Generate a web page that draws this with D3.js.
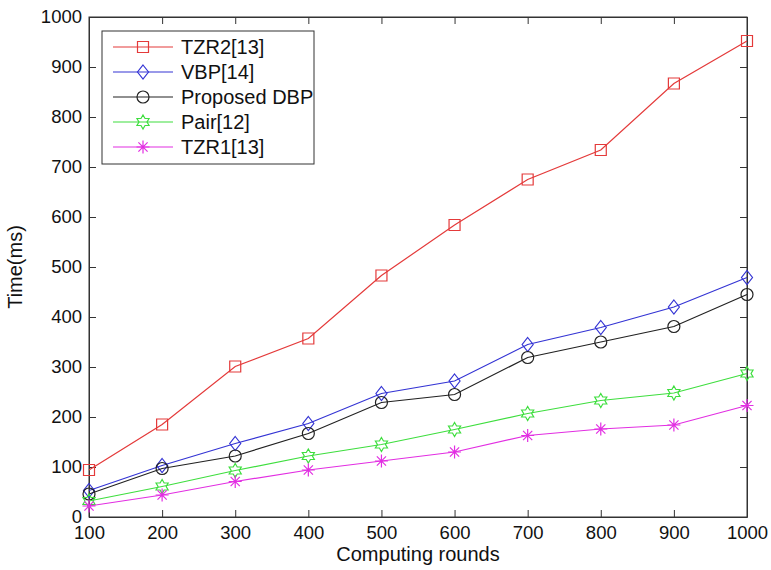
<!DOCTYPE html>
<html>
<head>
<meta charset="utf-8">
<script src="https://cdn.jsdelivr.net/npm/d3@7"></script>
<style>
  body { margin: 0; background: #fff; }
  svg text { font-family: "Liberation Sans", Arial, sans-serif; fill: #111; }
</style>
</head>
<body>
<svg id="chart" width="771" height="570"></svg>
<script>
// data
const rounds = [100, 200, 300, 400, 500, 600, 700, 800, 900, 1000];
const tzr2 = [94, 185, 301, 357, 483, 584, 675, 734, 867, 952];
const vbp  = [53, 103, 147, 187, 247, 272, 345, 379, 420, 479];
const dbp  = [46, 97, 122, 167, 229, 245, 319, 350, 381, 445];
const pair = [32, 61, 93, 122, 145, 175, 207, 233, 248, 287];
const tzr1 = [22, 44, 71, 94, 112, 130, 163, 176, 184, 223];
const yTicks = [0, 100, 200, 300, 400, 500, 600, 700, 800, 900, 1000];

const series = [
  {name: "TZR2[13]", values: tzr2, color: "#e43a3a", marker: "square"},
  {name: "VBP[14]", values: vbp, color: "#3434d4", marker: "diamond"},
  {name: "Proposed DBP", values: dbp, color: "#222222", marker: "circle"},
  {name: "Pair[12]", values: pair, color: "#3ede3e", marker: "hexagram"},
  {name: "TZR1[13]", values: tzr1, color: "#e22ee2", marker: "asterisk"}
];

const svg = d3.select("#chart");
const plotL = 89, plotR = 747, plotT = 17, plotB = 517;

const x = d3.scaleLinear().domain([100, 1000]).range([plotL, plotR]);
const y = d3.scaleLinear().domain([0, 1000]).range([plotB, plotT]);

// marker paths
function markerPath(type) {
  if (type === "square") return "M-5.5,-5.5H5.5V5.5H-5.5Z";
  if (type === "diamond") return "M0,-7L5.5,0L0,7L-5.5,0Z";
  if (type === "circle") return "M6,0A6,6 0 1,1 -6,0A6,6 0 1,1 6,0Z";
  if (type === "hexagram") {
    const R = 7, r = R / Math.sqrt(3);
    let p = [];
    for (let i = 0; i < 12; i++) {
      const a = -Math.PI / 2 + i * Math.PI / 6;
      const rr = i % 2 === 0 ? R : r;
      p.push([rr * Math.cos(a), rr * Math.sin(a)]);
    }
    return "M" + p.map(d => d[0].toFixed(2) + "," + d[1].toFixed(2)).join("L") + "Z";
  }
  if (type === "asterisk") {
    const s = 6.5, d = 4.6;
    return `M0,${-s}V${s}M${-s},0H${s}M${-d},${-d}L${d},${d}M${-d},${d}L${d},${-d}`;
  }
}

// box
svg.append("rect")
  .attr("x", plotL).attr("y", plotT)
  .attr("width", plotR - plotL).attr("height", plotB - plotT)
  .attr("fill", "none").attr("stroke", "#333").attr("stroke-width", 1);

// axes, ticks pointing inward
const fmt = d3.format("d");
const xAxis = svg.append("g")
  .attr("transform", `translate(0,${plotB})`)
  .call(d3.axisBottom(x).tickValues(rounds).tickFormat(fmt).tickSizeInner(-7).tickSizeOuter(0).tickPadding(9));
const xTop = svg.append("g")
  .attr("transform", `translate(0,${plotT})`)
  .call(d3.axisTop(x).tickValues(rounds).tickSizeInner(-7).tickSizeOuter(0).tickFormat(""));
const yAxis = svg.append("g")
  .attr("transform", `translate(${plotL},0)`)
  .call(d3.axisLeft(y).tickValues(yTicks).tickFormat(fmt).tickSizeInner(-7).tickSizeOuter(0).tickPadding(7));
const yRight = svg.append("g")
  .attr("transform", `translate(${plotR},0)`)
  .call(d3.axisRight(y).tickValues(yTicks).tickSizeInner(-7).tickSizeOuter(0).tickFormat(""));

[xAxis, xTop, yAxis, yRight].forEach(a => {
  a.select(".domain").attr("stroke", "#333");
  a.selectAll(".tick line").attr("stroke", "#333");
  a.selectAll("text")
    .style("font-family", "'Liberation Sans', Arial, sans-serif")
    .style("font-size", "18.5px")
    .attr("fill", "#111");
});

// axis titles
svg.append("text")
  .attr("x", (plotL + plotR) / 2).attr("y", 561)
  .attr("text-anchor", "middle")
  .style("font-size", "20px")
  .text("Computing rounds");

svg.append("text")
  .attr("transform", `translate(22,${(plotT + plotB) / 2}) rotate(-90)`)
  .attr("text-anchor", "middle")
  .style("font-size", "20px")
  .text("Time(ms)");

// lines + markers
const line = d3.line().x((d, i) => x(rounds[i])).y(d => y(d));

series.forEach(s => {
  svg.append("path")
    .datum(s.values)
    .attr("d", line)
    .attr("fill", "none")
    .attr("stroke", s.color)
    .attr("stroke-width", 1.2);

  svg.selectAll(null)
    .data(s.values)
    .enter().append("path")
    .attr("transform", (d, i) => `translate(${x(rounds[i])},${y(d)})`)
    .attr("d", markerPath(s.marker))
    .attr("fill", "none")
    .attr("stroke", s.color)
    .attr("stroke-width", 1.2);
});

// legend
const leg = svg.append("g");
leg.append("rect")
  .attr("x", 102).attr("y", 31)
  .attr("width", 212).attr("height", 133)
  .attr("fill", "#fff").attr("stroke", "#333").attr("stroke-width", 1);

series.forEach((s, i) => {
  const ly = 47 + i * 25;
  leg.append("line")
    .attr("x1", 113).attr("x2", 173)
    .attr("y1", ly).attr("y2", ly)
    .attr("stroke", s.color).attr("stroke-width", 1.2);
  leg.append("path")
    .attr("transform", `translate(143,${ly})`)
    .attr("d", markerPath(s.marker))
    .attr("fill", "none")
    .attr("stroke", s.color).attr("stroke-width", 1.2);
  leg.append("text")
    .attr("x", 181).attr("y", ly + 7)
    .style("font-size", "20px")
    .text(s.name);
});
</script>
</body>
</html>
